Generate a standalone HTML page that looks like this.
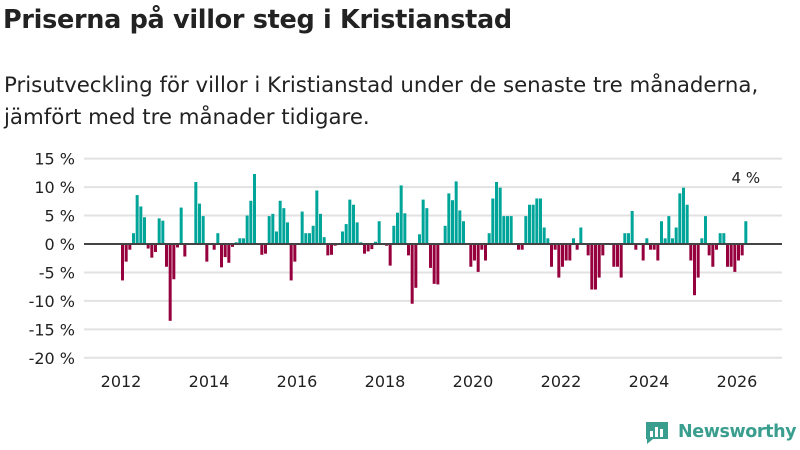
<!DOCTYPE html>
<html><head><meta charset="utf-8">
<style>
body{margin:0;width:800px;height:450px;background:#fff;font-family:"Liberation Sans","DejaVu Sans",sans-serif;overflow:hidden;position:relative;color:#222}
h1{position:absolute;left:3px;top:5px;margin:0;font-size:25.5px;font-weight:bold;font-family:"DejaVu Sans","Liberation Sans",sans-serif;letter-spacing:-0.3px}
.sub{position:absolute;left:4px;top:70px;margin:0;font-size:21.3px;line-height:32px;font-family:"DejaVu Sans","Liberation Sans",sans-serif;color:#222}
svg{position:absolute;left:0;top:0}
</style></head><body>
<h1>Priserna på villor steg i Kristianstad</h1>
<p class="sub">Prisutveckling för villor i Kristianstad under de senaste tre månaderna,<br>jämfört med tre månader tidigare.</p>
<svg id="chart" width="800" height="450"></svg>
<script>
const yTicks=[15,10,5,0,-5,-10,-15,-20];
const yTickLabels=["15 %","10 %","5 %","0 %","-5 %","-10 %","-15 %","-20 %"];
const years=[2012,2014,2016,2018,2020,2022,2024,2026];
const startYear=2012;
const values=[-6.4,-3.1,-1.0,1.9,8.6,6.6,4.7,-0.8,-2.4,-1.4,4.5,4.1,
-4.0,-13.5,-6.2,-0.6,6.4,-2.2,0,0,10.9,7.1,4.9,-3.1,
0,-1.0,1.9,-4.1,-2.3,-3.3,-0.5,0.3,1.0,1.0,5.0,7.6,
12.3,0,-1.9,-1.7,4.9,5.3,2.2,7.6,6.3,3.8,-6.4,-3.1,
0,5.7,1.9,1.9,3.2,9.4,5.3,1.2,-2.0,-1.9,-0.3,0,
2.2,3.5,7.8,6.9,3.8,0.3,-1.7,-1.3,-0.9,0.4,4.0,0,
-0.3,-3.8,3.2,5.5,10.3,5.4,-2.0,-10.5,-7.7,1.7,7.8,6.3,
-4.2,-7.0,-7.1,0,3.2,8.9,7.7,11.0,5.9,4.0,0,-4.0,
-2.9,-4.9,-1.0,-2.9,1.9,8.0,10.9,9.9,4.9,4.9,4.9,0,
-1.0,-1.0,4.9,6.9,6.9,8.0,8.0,2.9,1.0,-4.0,-1.0,-5.9,
-4.0,-2.9,-2.9,1.0,-1.0,2.9,0,-2.0,-8.0,-8.0,-5.9,-2.0,
0,0,-4.0,-4.0,-5.9,1.9,1.9,5.8,-1.0,0,-2.9,1.0,
-1.0,-1.0,-2.9,4.0,1.0,4.9,1.0,2.9,8.9,9.9,6.9,-2.9,
-9.0,-5.9,1.0,4.9,-2.0,-4.0,-1.0,1.9,1.9,-4.0,-4.0,-4.9,
-2.9,-2.0,4.0];
const lastLabel="4 %";

const NS="http://www.w3.org/2000/svg";
const svg=document.getElementById('chart');
const x0=121, pxPerMonth=616/168;
function xScale(monthIdx){return x0+monthIdx*pxPerMonth;}
function yScale(v){return 244-v*5.69;}
function mk(tag,attrs){const e=document.createElementNS(NS,tag);for(const k in attrs)e.setAttribute(k,attrs[k]);svg.appendChild(e);return e;}

yTicks.forEach((t,i)=>{
  if(t!==0){const g=mk('line',{x1:84,x2:782,y1:yScale(t),y2:yScale(t),stroke:'#e2e2e2','stroke-width':2});
  
  }
  const tx=mk('text',{x:75,y:yScale(t)+6,'text-anchor':'end','font-size':16,fill:'#222','font-family':'"DejaVu Sans","Liberation Sans",sans-serif'});
  tx.textContent=yTickLabels[i];
  
  
});
years.forEach(y=>{
  const tx=mk('text',{x:xScale((y-startYear)*12),y:387,'text-anchor':'middle','font-size':16,fill:'#222','font-family':'"DejaVu Sans","Liberation Sans",sans-serif'});
  tx.textContent=y;
  
  
});
values.forEach((v,i)=>{
  if(v===0)return;
  const y0=yScale(0),y1=yScale(v);
  const r=mk('rect',{x:xScale(i),y:Math.min(y0,y1),width:3,height:Math.abs(y1-y0),fill:v>0?'#00a59a':'#96003c'});
  
  
});
const zl=mk('line',{x1:84,x2:782,y1:yScale(0),y2:yScale(0),stroke:'#444','stroke-width':2});


const li=values.length-1;
const lab=mk('text',{x:xScale(li)+1.5,y:yScale(values[li])-38,'text-anchor':'middle','font-size':15,fill:'#222','font-family':'"DejaVu Sans","Liberation Sans",sans-serif'});
lab.textContent=lastLabel;


</script>
<div style="position:absolute;left:644px;top:419px;display:flex;align-items:center">
  <svg width="26" height="26" viewBox="0 0 26 26" style="position:static">
    <path d="M2 3h22v17H9l-6 5v-5H2z" fill="#3a9e8f"/>
    <rect x="6" y="12" width="3" height="6" fill="#fff"/><rect x="11" y="8" width="3" height="10" fill="#fff"/><rect x="16" y="10" width="3" height="8" fill="#fff"/>
  </svg>
  <span style="font-size:17.5px;font-weight:bold;color:#3a9e8f;margin-left:8px;font-family:'DejaVu Sans','Liberation Sans',sans-serif;letter-spacing:-0.4px">Newsworthy</span>
</div>
</body></html>
